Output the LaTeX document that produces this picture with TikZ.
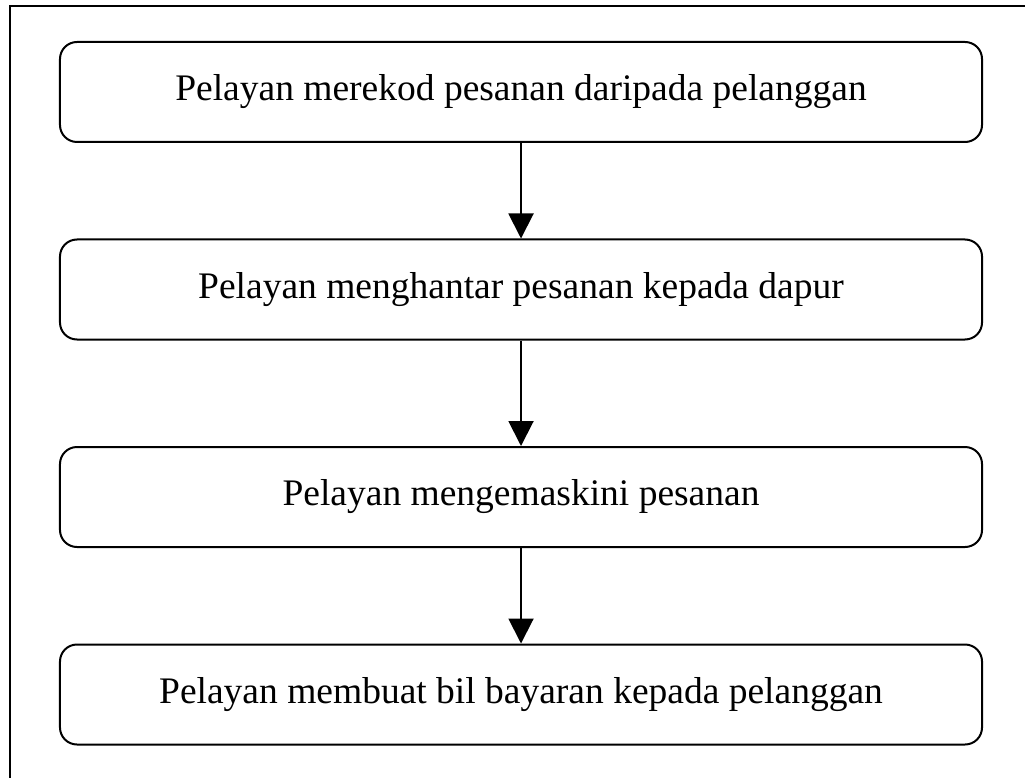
\documentclass[tikz,border=0pt]{standalone}
\usepackage{fontspec}
\setmainfont{Liberation Serif}
\usepackage{tikz}
\usetikzlibrary{arrows.meta}
\tikzstyle{step box} = [rectangle, rounded corners=6.8pt, minimum width=368.8pt, minimum height=40pt, text centered, draw=black, line width=0.8pt, font=\fontsize{15}{18}\selectfont]
\tikzstyle{arrow} = [line width=0.8pt, -{Triangle[width=10pt,length=10pt]}]

\begin{document}
\begin{tikzpicture}[x=0.4pt, y=-0.4pt, node distance=80pt]
\useasboundingbox (0,0) rectangle (1025,778);
\draw [line width=0.8pt] (1025,6) -- (10,6) -- (10,778);
\node (rekod) [step box] at (521,92) {Pelayan merekod pesanan daripada pelanggan};
\node (hantar) [step box, below of=rekod, yshift=1pt] {Pelayan menghantar pesanan kepada dapur};
\node (kemaskini) [step box, below of=hantar, yshift=-3pt] {Pelayan mengemaskini pesanan};
\node (bil) [step box, below of=kemaskini, yshift=1pt] {Pelayan membuat bil bayaran kepada pelanggan};

\draw [arrow] (rekod) -- (hantar);
\draw [arrow] (hantar) -- (kemaskini);
\draw [arrow] (kemaskini) -- (bil);
\end{tikzpicture}
\end{document}
